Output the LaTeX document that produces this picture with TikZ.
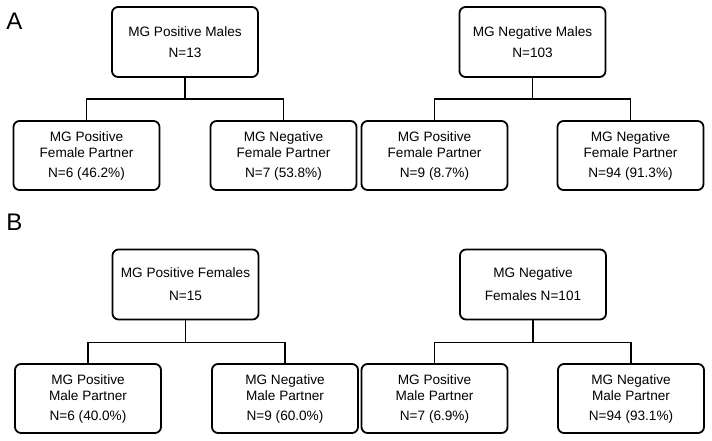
\documentclass[tikz,border=0pt]{standalone}
\usepackage{fontspec}
\setmainfont{Liberation Sans}
\begin{document}
\begin{tikzpicture}[x=1pt,y=-1pt,
  box/.style={draw, line width=1.8pt, rounded corners=6pt, minimum width=146pt, minimum height=69pt, align=center, inner sep=0pt, font=\fontsize{13.6}{16}\selectfont},
  conn/.style={line width=1.8pt},
  panel/.style={font=\fontsize{24}{24}\selectfont}]
\useasboundingbox (0,0) rectangle (712,441);
\node[panel] (A) at (14.5,21.5) {A};
\node[panel] (B) at (14.5,222) {B};
% Panel A
\node[box, minimum height=70pt] (a1) at (185,42) {MG Positive Males\\[5pt]N=13};
\node[box, minimum height=70pt] (a2) at (532.5,42) {MG Negative Males\\[5pt]N=103};
\node[box] (a11) at (86.5,155.5) {MG Positive\\Female Partner\\[4pt]N=6 (46.2\%)};
\node[box] (a12) at (283.5,155.5) {MG Negative\\Female Partner\\[4pt]N=7 (53.8\%)};
\node[box] (a21) at (434.5,155.5) {MG Positive\\Female Partner\\[4pt]N=9 (8.7\%)};
\node[box] (a22) at (630.5,155.5) {MG Negative\\Female Partner\\[4pt]N=94 (91.3\%)};
\coordinate (ja1) at (185,99);
\coordinate (ja2) at (532.5,99);
\draw[conn] (a1.south) -- (ja1);
\draw[conn] (a11.north) |- (ja1) -| (a12.north);
\draw[conn] (a2.south) -- (ja2);
\draw[conn] (a21.north) |- (ja2) -| (a22.north);
% Panel B
\node[box, minimum height=70pt] (b1) at (185.5,284.5) {MG Positive Females\\[7pt]N=15};
\node[box, minimum height=70pt] (b2) at (533,284.5) {MG Negative\\[7pt]Females N=101};
\node[box] (b11) at (88,398.5) {MG Positive\\Male Partner\\[4pt]N=6 (40.0\%)};
\node[box] (b12) at (285,398.5) {MG Negative\\Male Partner\\[4pt]N=9 (60.0\%)};
\node[box] (b21) at (434.5,398.5) {MG Positive\\Male Partner\\[4pt]N=7 (6.9\%)};
\node[box] (b22) at (631,398.5) {MG Negative\\Male Partner\\[4pt]N=94 (93.1\%)};
\coordinate (jb1) at (185.5,342.5);
\coordinate (jb2) at (533,342.5);
\draw[conn] (b1.south) -- (jb1);
\draw[conn] (b11.north) |- (jb1) -| (b12.north);
\draw[conn] (b2.south) -- (jb2);
\draw[conn] (b21.north) |- (jb2) -| (b22.north);
\end{tikzpicture}
\end{document}
